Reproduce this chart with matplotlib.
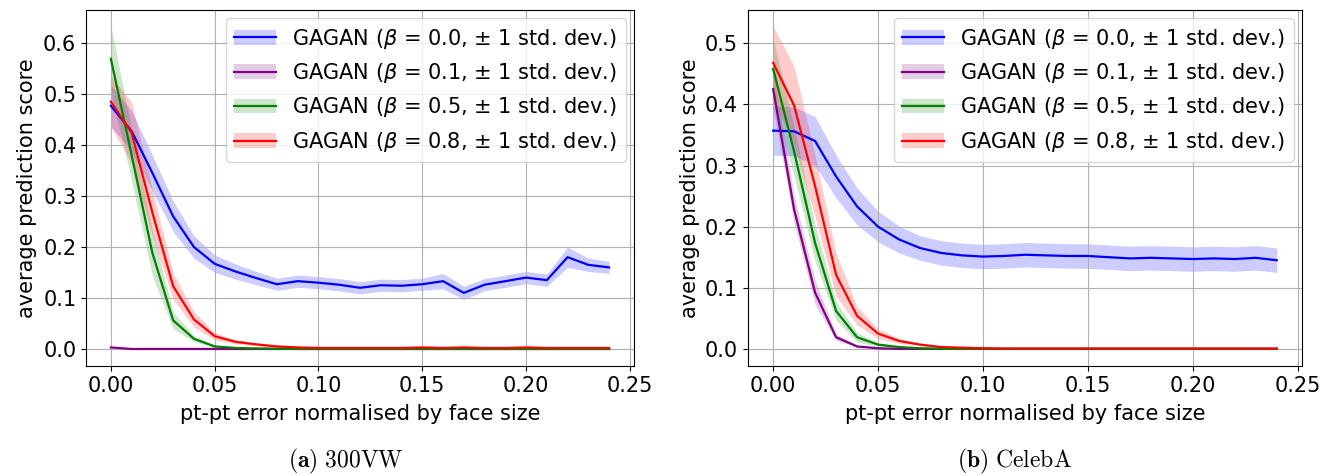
import numpy as np
import matplotlib
matplotlib.use("Agg")
import matplotlib.pyplot as plt
from matplotlib.patches import Patch
from matplotlib.lines import Line2D

plt.rcParams['mathtext.fontset'] = 'dejavusans'

# normalised pt-pt error thresholds (x axis)
err = np.linspace(0.0, 0.24, 25)

betas = ["0.0", "0.1", "0.5", "0.8"]
colors = ["blue", "purple", "green", "red"]

# ---- (a) 300VW ----
vw_b00 = [0.477, 0.427, 0.345, 0.260, 0.200, 0.167, 0.152, 0.139, 0.127, 0.133,
          0.130, 0.126, 0.120, 0.125, 0.124, 0.127, 0.133, 0.110, 0.126, 0.133,
          0.140, 0.135, 0.180, 0.165, 0.160]
vw_b00_sd = [0.040, 0.040, 0.035, 0.030, 0.022, 0.017, 0.015, 0.013, 0.012, 0.012,
             0.012, 0.012, 0.012, 0.012, 0.012, 0.012, 0.015, 0.013, 0.012, 0.012,
             0.012, 0.012, 0.020, 0.013, 0.012]
vw_b01 = [0.003] + [0.0] * 24
vw_b01_sd = [0.001] * 25
vw_b05 = [0.569, 0.380, 0.188, 0.056, 0.020, 0.005, 0.002, 0.001, 0.0005] + [0.0] * 16
vw_b05_sd = [0.064, 0.050, 0.045, 0.016, 0.006, 0.002, 0.001, 0.0005] + [0.0] * 17
vw_b08 = [0.485, 0.424, 0.267, 0.123, 0.058, 0.025, 0.014, 0.009, 0.005, 0.003,
          0.002, 0.002, 0.002, 0.002, 0.002, 0.003, 0.002, 0.003, 0.002, 0.002,
          0.003, 0.002, 0.002, 0.002, 0.002]
vw_b08_sd = [0.050, 0.060, 0.045, 0.026, 0.015, 0.007, 0.004, 0.003, 0.002, 0.001,
             0.001, 0.001, 0.001, 0.001, 0.001, 0.001, 0.001, 0.001, 0.001, 0.001,
             0.001, 0.001, 0.001, 0.001, 0.001]

# ---- (b) CelebA ----
ca_b00 = [0.357, 0.356, 0.340, 0.282, 0.233, 0.200, 0.179, 0.165, 0.157, 0.153,
          0.151, 0.152, 0.154, 0.153, 0.152, 0.152, 0.150, 0.148, 0.149, 0.148,
          0.147, 0.148, 0.147, 0.149, 0.145]
ca_b00_sd = [0.040, 0.040, 0.040, 0.035, 0.030, 0.025, 0.022, 0.020, 0.020, 0.020,
             0.020, 0.020, 0.020, 0.020, 0.020, 0.020, 0.020, 0.020, 0.020, 0.020,
             0.020, 0.020, 0.020, 0.020, 0.020]
ca_b01 = [0.425, 0.228, 0.092, 0.019, 0.004, 0.001] + [0.0] * 19
ca_b01_sd = [0.030, 0.022, 0.020, 0.005, 0.002, 0.0005] + [0.0] * 19
ca_b05 = [0.458, 0.323, 0.173, 0.062, 0.019, 0.007, 0.003, 0.001] + [0.0] * 17
ca_b05_sd = [0.050, 0.040, 0.030, 0.015, 0.008, 0.003, 0.001, 0.0005] + [0.0] * 17
ca_b08 = [0.468, 0.398, 0.266, 0.121, 0.054, 0.025, 0.013, 0.007, 0.003, 0.002,
          0.001] + [0.0005] * 14
ca_b08_sd = [0.060, 0.064, 0.050, 0.035, 0.015, 0.008, 0.004, 0.002, 0.001, 0.0005,
             0.0005] + [0.0] * 14

vw_means = [vw_b00, vw_b01, vw_b05, vw_b08]
vw_sds = [vw_b00_sd, vw_b01_sd, vw_b05_sd, vw_b08_sd]
ca_means = [ca_b00, ca_b01, ca_b05, ca_b08]
ca_sds = [ca_b00_sd, ca_b01_sd, ca_b05_sd, ca_b08_sd]

FS = 15

fig = plt.figure(figsize=(13.25, 4.76), dpi=100)
ax1 = fig.add_axes([0.0649, 0.2311, 0.4136, 0.748])
ax2 = fig.add_axes([0.5645, 0.2311, 0.4181, 0.748])


def draw(ax, means, sds, ylim, yticks):
    for m, s, c in zip(means, sds, colors):
        m = np.array(m)
        s = np.array(s)
        ax.fill_between(err, m - s, m + s, color=c, alpha=0.2, linewidth=0)
        ax.plot(err, m, color=c, lw=1.6)
    ax.set_xlim(-0.012, 0.252)
    ax.set_ylim(*ylim)
    ax.set_yticks(yticks)
    ax.set_xticks([0.0, 0.05, 0.10, 0.15, 0.20, 0.25])
    ax.grid(True, color="#b0b0b0", lw=0.8)
    ax.tick_params(labelsize=FS)
    ax.set_xlabel("pt-pt error normalised by face size", fontsize=FS, labelpad=6)
    ax.set_ylabel("average prediction score", fontsize=FS)
    handles = [(Patch(facecolor=c, alpha=0.2), Line2D([], [], color=c, lw=1.6))
               for c in colors]
    labels = [r"GAGAN ($\beta$ = %s, $\pm$ 1 std. dev.)" % b for b in betas]
    ax.legend(handles, labels, loc="upper right", fontsize=FS, borderaxespad=0.4)


draw(ax1, vw_means, vw_sds, (-0.0334, 0.665), [0.0, 0.1, 0.2, 0.3, 0.4, 0.5, 0.6])
draw(ax2, ca_means, ca_sds, (-0.028, 0.5545), [0.0, 0.1, 0.2, 0.3, 0.4, 0.5])

fig.text(0.261, 0.031, r"$\mathbf{(a)}\ \mathrm{300VW}$", ha="center", va="center",
         fontsize=17, math_fontfamily="cm")
fig.text(0.766, 0.031, r"$\mathbf{(b)}\ \mathrm{CelebA}$", ha="center", va="center",
         fontsize=17, math_fontfamily="cm")

fig.savefig("out.png", dpi=100)
